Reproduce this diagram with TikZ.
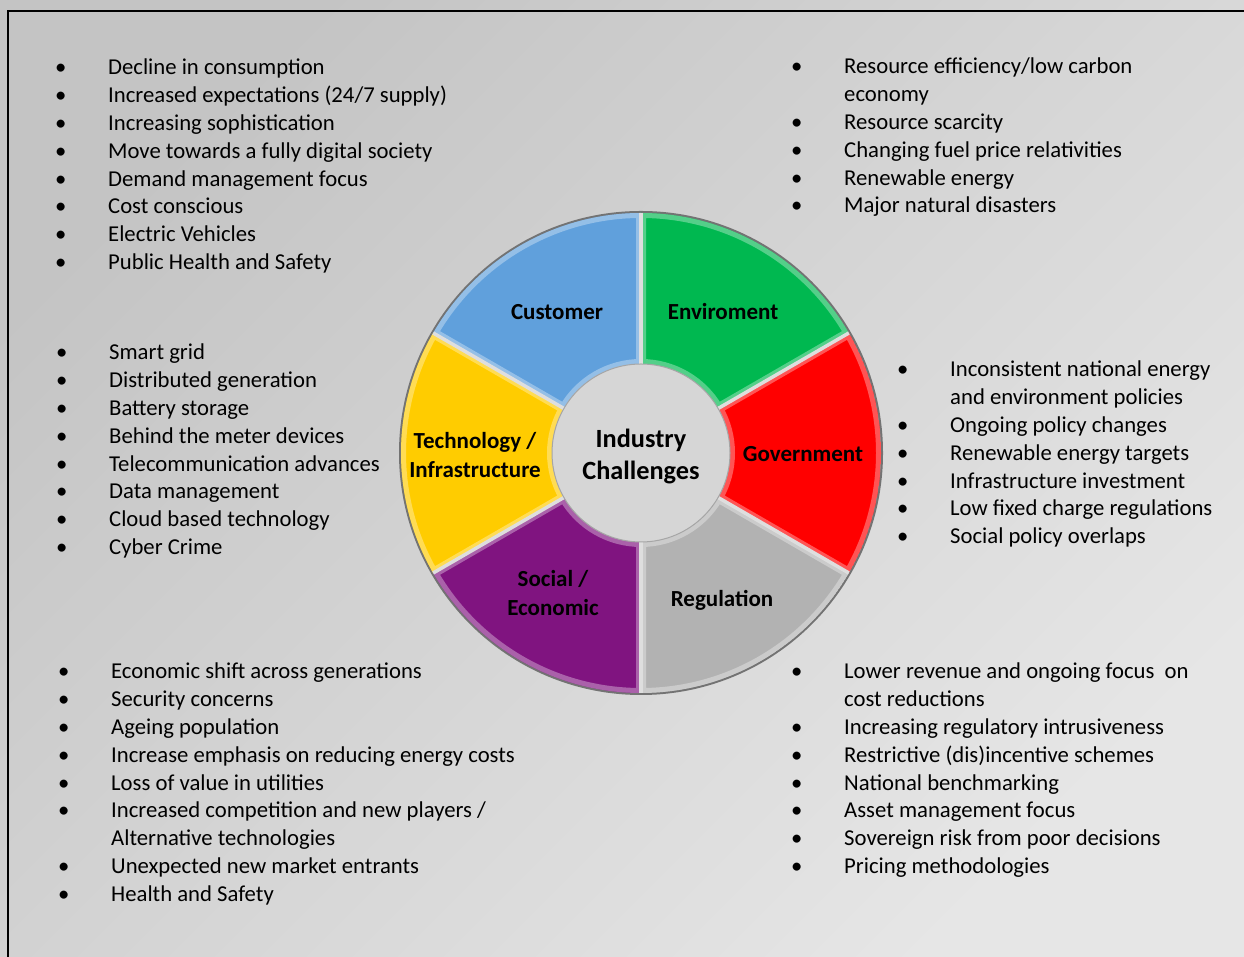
\documentclass[tikz,border=0pt]{standalone}
\usepackage{fontspec}
\setmainfont{Carlito}
\usepackage{array}

\definecolor{custblue}{RGB}{96,160,220}
\definecolor{envgreen}{RGB}{0,184,80}
\definecolor{govred}{RGB}{255,0,0}
\definecolor{reggray}{RGB}{178,178,178}
\definecolor{socpurple}{RGB}{128,20,128}
\definecolor{techyellow}{RGB}{255,204,0}
\definecolor{bgdark}{RGB}{196,196,196}
\definecolor{bglight}{RGB}{230,230,230}
\definecolor{holegray}{RGB}{214,214,214}
\definecolor{gapgray}{RGB}{222,222,222}

\newcommand{\listfont}{\fontsize{22.7}{27.8}\selectfont}
\newcommand{\ringpath}[1]{(#1:240) arc[start angle=#1, delta angle=60, radius=240] -- (#1+60:89) arc[start angle=#1+60, delta angle=-60, radius=89] -- cycle}
\newcommand{\ringpart}[2]{\begin{scope}\clip\ringpath{#1};\fill[#2]\ringpath{#1};\draw[#2!45!white,line width=10pt,opacity=.6]\ringpath{#1};\end{scope}}

\begin{document}
\begin{tikzpicture}[x=1pt,y=1pt,
  factlist/.style={anchor=base west,inner sep=0pt,font=\listfont},
  seglabel/.style={inner sep=0pt,align=center,font=\fontsize{23}{28.5}\selectfont\bfseries},
  gap/.style={gapgray,line width=3.5pt}]
\clip (0,0) rectangle (1244,957);
\shade[top color=bgdark,bottom color=bglight,shading angle=45] (-2,-2) rectangle (1250,960);
\draw[line width=2pt] (8,-5) -- (8,946) -- (1250,946);

\coordinate (hub) at (641,504);

% ring
\fill[black!55] (hub) circle[radius=242];
\begin{scope}[shift={(hub)}]
\ringpart{90}{custblue}
\ringpart{30}{envgreen}
\ringpart{-30}{govred}
\ringpart{-90}{reggray}
\ringpart{-150}{socpurple}
\ringpart{150}{techyellow}
\draw[gap] (90:89) -- (90:240);
\draw[gap] (30:89) -- (30:240);
\draw[gap] (-30:89) -- (-30:240);
\draw[gap] (-90:89) -- (-90:240);
\draw[gap] (-150:89) -- (-150:240);
\draw[gap] (150:89) -- (150:240);
\end{scope}
\fill[holegray,draw=black!35,line width=1pt] (hub) circle[radius=89];

\path (641,500.5) node[align=center,inner sep=0pt,font=\fontsize{26.3}{32}\selectfont\bfseries](challenges){Industry\\Challenges}
 (557,645) node[seglabel](customer){Customer}
 (723,645) node[seglabel](enviroment){Enviroment}
 (803,503) node[seglabel](government){Government}
 (722,357) node[seglabel](regulation){Regulation}
 (553,364) node[seglabel](social){Social /\\Economic}
 (475,502) node[seglabel](technology){Technology /\\Infrastructure};

% lists
\node[factlist] (customerlist) at (55,882) {\begin{tabular}[t]{@{}p{53pt}@{}l@{}}
\textbullet & Decline in consumption\\
\textbullet & Increased expectations (24/7 supply)\\
\textbullet & Increasing sophistication\\
\textbullet & Move towards a fully digital society\\
\textbullet & Demand management focus\\
\textbullet & Cost conscious\\
\textbullet & Electric Vehicles\\
\textbullet & Public Health and Safety
\end{tabular}};

\node[factlist] (enviromentlist) at (791,883) {\begin{tabular}[t]{@{}p{53pt}@{}l@{}}
\textbullet & Resource efficiency/low carbon\\
 & economy\\
\textbullet & Resource scarcity\\
\textbullet & Changing fuel price relativities\\
\textbullet & Renewable energy\\
\textbullet & Major natural disasters
\end{tabular}};

\node[factlist] (technologylist) at (56,597) {\begin{tabular}[t]{@{}p{53pt}@{}l@{}}
\textbullet & Smart grid\\
\textbullet & Distributed generation\\
\textbullet & Battery storage\\
\textbullet & Behind the meter devices\\
\textbullet & Telecommunication advances\\
\textbullet & Data management\\
\textbullet & Cloud based technology\\
\textbullet & Cyber Crime
\end{tabular}};

\node[factlist] (governmentlist) at (897,580) {\begin{tabular}[t]{@{}p{53pt}@{}l@{}}
\textbullet & Inconsistent national energy\\
 & and environment policies\\
\textbullet & Ongoing policy changes\\
\textbullet & Renewable energy targets\\
\textbullet & Infrastructure investment\\
\textbullet & Low fixed charge regulations\\
\textbullet & Social policy overlaps
\end{tabular}};

\node[factlist] (sociallist) at (58,278) {\begin{tabular}[t]{@{}p{53pt}@{}l@{}}
\textbullet & Economic shift across generations\\
\textbullet & Security concerns\\
\textbullet & Ageing population\\
\textbullet & Increase emphasis on reducing energy costs\\
\textbullet & Loss of value in utilities\\
\textbullet & Increased competition and new players /\\
 & Alternative technologies\\
\textbullet & Unexpected new market entrants\\
\textbullet & Health and Safety
\end{tabular}};

\node[factlist] (regulationlist) at (791,278) {\begin{tabular}[t]{@{}p{53pt}@{}l@{}}
\textbullet & Lower revenue\ and ongoing focus\ \ on\\
 & cost reductions\\
\textbullet & Increasing regulatory intrusiveness\\
\textbullet & Restrictive (dis)incentive schemes\\
\textbullet & National benchmarking\\
\textbullet & Asset management focus\\
\textbullet & Sovereign risk from poor decisions\\
\textbullet & Pricing methodologies
\end{tabular}};
\end{tikzpicture}
\end{document}
